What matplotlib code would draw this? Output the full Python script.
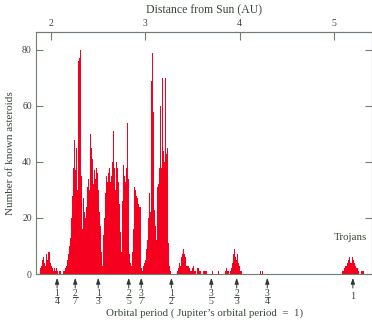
import matplotlib
matplotlib.use("Agg")
import matplotlib.pyplot as plt
from matplotlib.lines import Line2D
import numpy as np

# ---- data ----
bin_start = 1.8833     # AU, left edge of first bin
bin_width = 0.0106     # AU
counts = [
    2, 3, 5, 6, 4, 3, 7, 5, 8, 8, 4, 3, 2, 1, 2, 1, 2, 1, 0, 1,            # 40-59
    1, 0, 0, 1, 1, 2, 3, 5, 7, 10, 13, 20, 28, 38, 48, 37, 45, 30, 76, 77,  # 60-79
    80, 35, 16, 27, 22, 20, 24, 31, 34, 30, 50, 45, 41, 32, 37, 34, 38, 36, 30, 22,  # 80-99
    17, 8, 3, 14, 20, 29, 35, 33, 36, 38, 33, 35, 40, 51, 38, 30, 40, 38, 33, 25,  # 100-119
    15, 8, 26, 39, 35, 33, 38, 54, 34, 7, 4, 3, 8, 16, 31, 30, 28, 27, 25, 24,  # 120-139
    24, 2, 1, 3, 4, 5, 9, 12, 20, 29, 22, 69, 79, 58, 23, 17, 12, 31, 32, 38,  # 140-159
    60, 38, 70, 44, 40, 70, 43, 45, 11, 3, 1, 0, 0, 0, 0, 0, 0, 1, 2, 4,      # 160-179
    3, 6, 7, 9, 7, 6, 3, 3, 3, 2, 1, 1, 2, 3, 1, 1, 0, 2, 2, 1,              # 180-199
    1, 0, 0, 1, 1, 1, 1, 0, 0, 0, 0, 0, 1, 0, 0, 0, 0, 0, 1, 0,              # 200-219
    0, 0, 0, 0, 0, 1, 2, 1, 1, 0, 1, 2, 4, 7, 9, 6, 5, 7, 4, 3,              # 220-239
    1, 1, 0, 0, 0, 0, 0, 0, 0, 0, 0, 0, 0, 0, 0, 0, 0, 0, 0, 0,              # 240-259
    1, 0, 1, 0, 0, 0, 0, 0, 0, 0, 0, 0, 0, 0, 0, 0, 0, 0, 0, 0,              # 260-279
    0, 0, 0, 0, 0, 0, 0, 0, 0, 0, 0, 0, 0, 0, 0, 0, 0, 0, 0, 0,              # 280-299
    0, 0, 0, 0, 0, 0, 0, 0, 0, 0, 0, 0, 0, 0, 0, 0, 0, 0, 0, 0,              # 300-319
    0, 0, 0, 0, 0, 0, 0, 0, 0, 0, 0, 0, 0, 0, 0, 0, 0, 0, 0, 0,              # 320-339
    0, 0, 1, 1, 2, 3, 3, 4, 5, 6, 4, 4, 6, 5, 4, 3, 2, 2, 1, 0,              # 340-359
    0, 1, 1, 1,                                                             # 360-363
]
au_ticks = [2, 3, 4, 5]
y_ticks = [0, 20, 40, 60, 80]
res_num = [1, 2, 1, 2, 3, 1, 3, 2, 3, 1]
res_den = [4, 7, 3, 5, 7, 2, 5, 3, 4, 1]
jupiter_au = 5.2

# ---- style ----
plt.rcParams['font.family'] = ['Liberation Serif', 'DejaVu Serif']
txt = '#3a463a'
spine_c = '#6f7f6f'
bar_c = '#f5001e'

fig = plt.figure(figsize=(3.72, 3.22), dpi=100)
ax = fig.add_axes([36/372, 48/322, 336/372, 242/322])

centers = bin_start + bin_width * (np.arange(len(counts)) + 0.5)
ax.bar(centers, counts, width=bin_width, color=bar_c, linewidth=0, align='center')

ax.set_xlim(1.84, 5.403)
ax.set_ylim(0, 86.4)

for s in ax.spines.values():
    s.set_color(spine_c)
    s.set_linewidth(0.8)

ax.set_yticks(y_ticks)
ax.tick_params(axis='y', direction='in', length=5, width=0.8, color=spine_c,
               labelsize=7, labelcolor=txt, right=True, pad=3)
ax.set_xticks([])
ax.set_ylabel('Number of known asteroids', fontsize=8, color=txt, labelpad=5)

top = ax.secondary_xaxis('top')
top.set_xticks(au_ticks)
top.tick_params(direction='in', length=6, width=0.8, color=spine_c,
                labelsize=7, labelcolor=txt, pad=3)
top.spines['top'].set_color(spine_c)
top.set_xlabel('Distance from Sun (AU)', fontsize=8.5, color=txt, labelpad=4)

xt = ax.get_xaxis_transform()
for p, q in zip(res_num, res_den):
    a = jupiter_au * (p / q) ** (2.0 / 3.0)
    ax.annotate('', xy=(a, -0.016), xytext=(a, -0.058),
                xycoords=xt, textcoords=xt,
                arrowprops=dict(arrowstyle='-|>,head_length=0.35,head_width=0.12',
                                color='#2e3a2e', lw=0.7, shrinkA=0, shrinkB=0),
                annotation_clip=False)
    if p == q:
        ax.text(a, -0.093, '1', transform=xt, ha='center', va='center',
                fontsize=7.5, color=txt, clip_on=False)
    else:
        ax.text(a, -0.081, str(p), transform=xt, ha='center', va='center',
                fontsize=7, color=txt, clip_on=False)
        ax.add_line(Line2D([a - 0.025, a + 0.025], [-0.097, -0.097], transform=xt,
                           color=txt, lw=0.6, clip_on=False))
        ax.text(a, -0.115, str(q), transform=xt, ha='center', va='center',
                fontsize=7, color=txt, clip_on=False)

ax.text(0.5, -0.16, "Orbital period ( Jupiter\u2019s orbital period  =  1)",
        transform=ax.transAxes, ha='center', va='center', fontsize=7.8, color=txt)

ax.text(5.17, 12.9, 'Trojans', ha='center', va='center', fontsize=7.8, color=txt)

fig.savefig('out.png', dpi=100)
